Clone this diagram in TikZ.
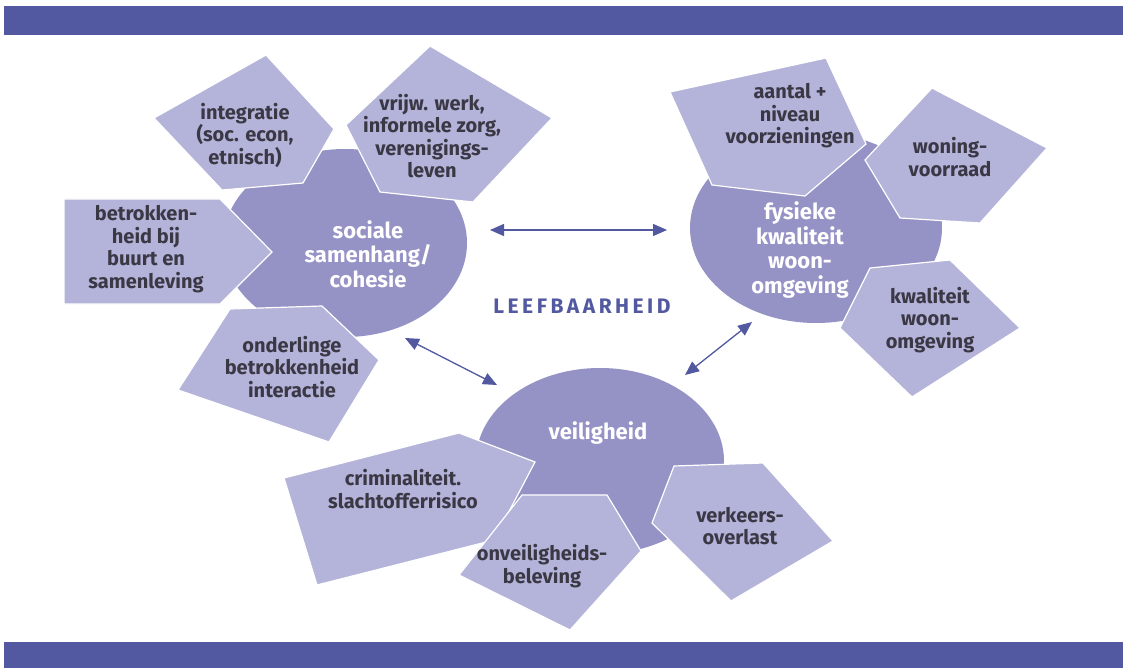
\documentclass[tikz,border=0pt]{standalone}
\usepackage{fontspec}
\setmainfont{Fira Sans}
\usetikzlibrary{positioning, shapes.geometric, arrows.meta}
\definecolor{barblue}{HTML}{5259A0}
\definecolor{hubfill}{HTML}{9592C6}
\definecolor{petalfill}{HTML}{B4B3D9}
\definecolor{inkgray}{HTML}{3A3845}
\tikzset{hub/.style={ellipse, fill=hubfill, inner sep=0pt}}
\tikzset{hubtext/.style={align=center, text=white, font=\bfseries\fontsize{22}{24.5}\selectfont}}
\tikzset{petal/.style={fill=petalfill, draw=white, line width=1.2pt}}
\tikzset{petaltext/.style={align=center, text=inkgray, font=\bfseries\fontsize{20}{22.5}\selectfont}}
\tikzset{link/.style={draw=barblue, line width=1.3pt, {Triangle[length=14pt,width=12pt]}-{Triangle[length=14pt,width=12pt]}}}

\begin{document}
\begin{tikzpicture}[x=1pt, y=-1pt]
      \useasboundingbox (0,0) rectangle (1123,668);
      \fill[white] (0,0) rectangle (1123,668);
      \fill[barblue] (4,6) rectangle (1123,35);
      \fill[barblue] (4,642) rectangle (1123,668);

      % kernen
      \node[hub, minimum width=244pt, minimum height=188pt] (soc) at (345,243) {};
      \node[hub, minimum width=252pt, minimum height=190pt] (fys) at (816,228) {};
      \node[hub, minimum width=248pt, minimum height=186pt] (vei) at (600,461) {};

      % sociale samenhang
      \filldraw[petal] (266,55) -- (334,129) -- (303,183) -- (222,190) -- (154,118) -- cycle;
      \filldraw[petal] (430,46) -- (552,118) -- (473,202) -- (380,192) -- (346,125) -- cycle;
      \filldraw[petal] (64,199) -- (220,199) -- (272,252) -- (220,304) -- (64,304) -- cycle;
      \filldraw[petal] (230,309) -- (322,306) -- (379,360) -- (329,442) -- (178,390) -- cycle;
      \node[petaltext] (integr) at (245,135) {integratie\\(soc. econ,\\etnisch)};
      \node[petaltext] (vrijw) at (432,136) {vrijw. werk,\\informele zorg,\\verenigings-\\leven};
      \node[petaltext] (betrok) at (146,249) {betrokken-\\heid bij\\buurt en\\samenleving};
      \node[petaltext] (onderl) at (292,367) {onderlinge\\betrokkenheid\\interactie};

      % fysieke kwaliteit
      \filldraw[petal] (670,92) -- (826,58) -- (866,144) -- (805,196) -- (712,185) -- cycle;
      \filldraw[petal] (932,88) -- (1047,148) -- (980,223) -- (900,218) -- (865,160) -- cycle;
      \filldraw[petal] (870,268) -- (950,260) -- (1020,328) -- (912,397) -- (840,328) -- cycle;
      \node[petaltext] (aantal) at (790,116) {aantal +\\niveau\\voorzieningen};
      \node[petaltext] (woning) at (950,157) {woning-\\voorraad};
      \node[petaltext] (kwal) at (930,320) {kwaliteit\\woon-\\omgeving};

      % veiligheid
      \filldraw[petal] (284,478) -- (459,433) -- (535,462) -- (494,540) -- (317,585) -- cycle;
      \filldraw[petal] (522,495) -- (607,495) -- (641,551) -- (570,630) -- (459,575) -- cycle;
      \filldraw[petal] (674,466) -- (763,463) -- (833,541) -- (731,601) -- (652,523) -- cycle;
      \node[petaltext] (crimi) at (403,489) {criminaliteit.\\slachtofferrisico};
      \node[petaltext] (onveil) at (542,566) {onveiligheids-\\beleving};
      \node[petaltext] (verkeer) at (740,526) {verkeers-\\overlast};

      \node[hubtext] (soclabel) at (368,254) {sociale\\samenhang/\\cohesie};
      \node[hubtext] (fyslabel) at (800,250) {fysieke\\kwaliteit\\woon-\\omgeving};
      \node[hubtext] (veilabel) at (598,433) {veiligheid};

      \node[text=barblue, font=\bfseries\fontsize{21}{24}\selectfont] (leef) at (582,306) {L\,E\,E\,F\,B\,A\,A\,R\,H\,E\,I\,D};

      \coordinate (socE) at (490,230);
      \coordinate (fysW) at (667,230);
      \coordinate (socS) at (405,338);
      \coordinate (veiNW) at (497,385);
      \coordinate (fysSW) at (752,322);
      \coordinate (veiNE) at (685,375);
      \draw[link] (socE) -- (fysW);
      \draw[link] (socS) -- (veiNW);
      \draw[link] (veiNE) -- (fysSW);
    \end{tikzpicture}
\end{document}
